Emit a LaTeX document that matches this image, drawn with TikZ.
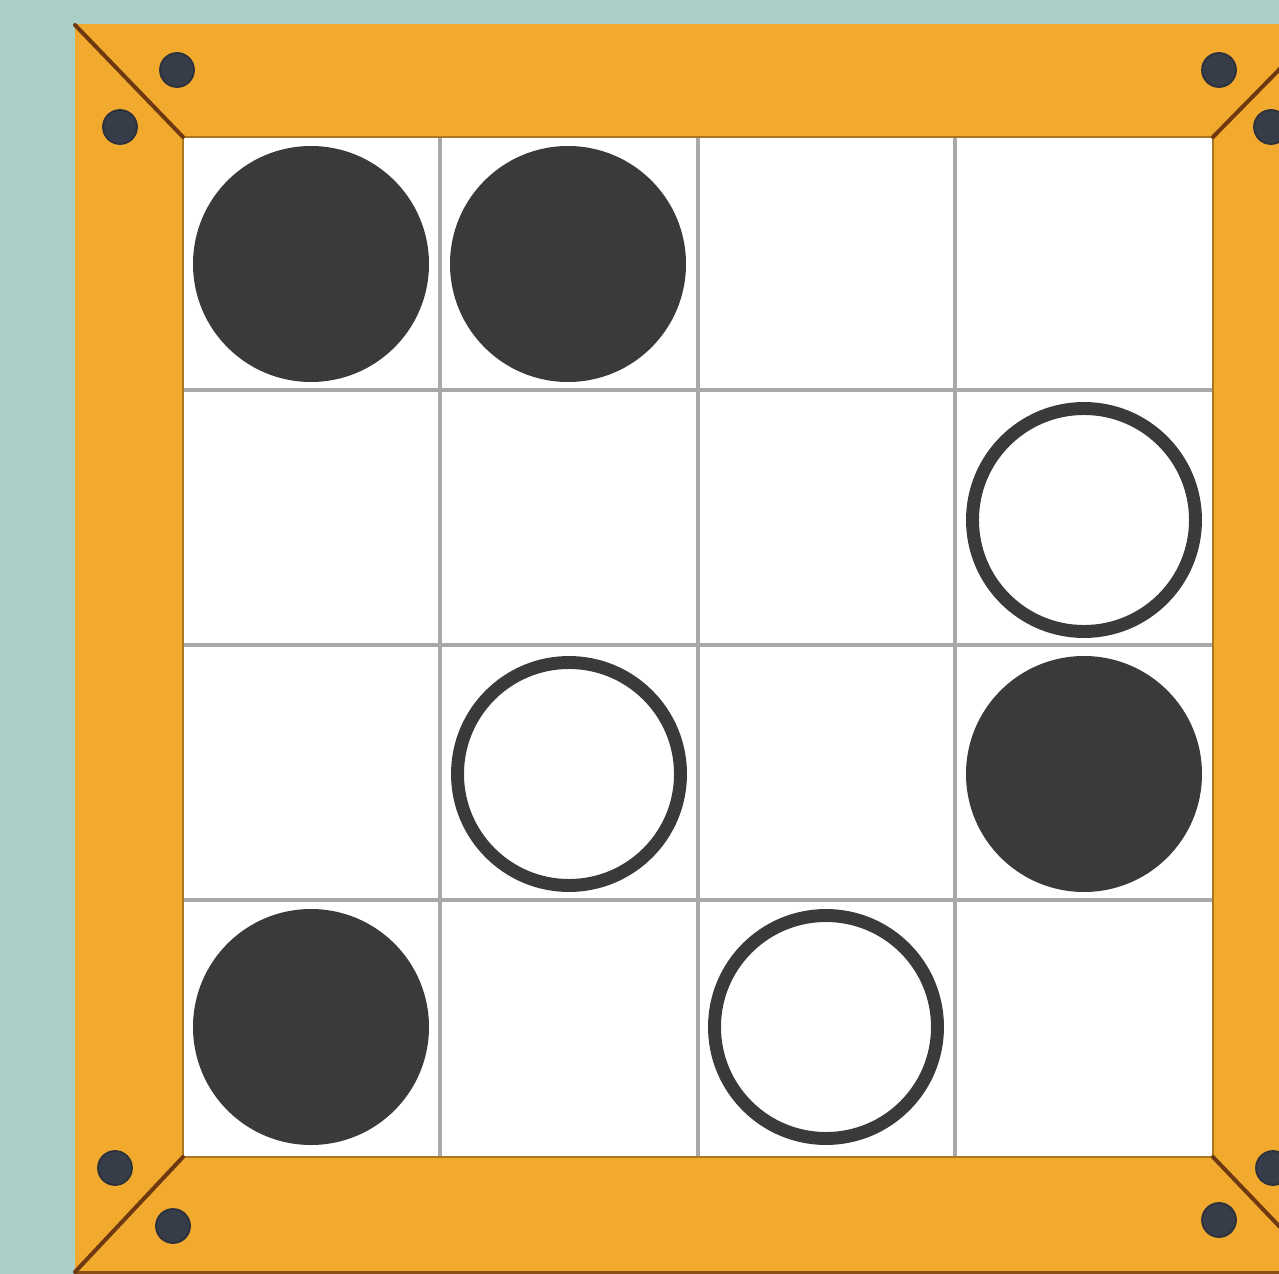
\documentclass[tikz,border=0pt]{standalone}
\begin{document}
\definecolor{bgteal}{HTML}{AACFC7}
\definecolor{frameor}{HTML}{F2AA2E}
\definecolor{framedk}{HTML}{6E3810}
\definecolor{gridgr}{HTML}{A8A8A8}
\definecolor{discdk}{HTML}{3A3A3A}
\definecolor{screwc}{HTML}{363C48}
\begin{tikzpicture}[x=0.02cm,y=-0.02cm,
  px/.style={line width=#1*0.567pt},
  disc/.style={circle,fill=discdk,draw=none,minimum size=236*0.02cm,inner sep=0pt},
  ring/.style={circle,draw=discdk,fill=white,line width=13*0.567pt,minimum size=(236-13)*0.02cm,inner sep=0pt},
  screw/.style={circle,fill=screwc,draw=screwc!80!black,line width=1pt,minimum size=34*0.02cm,inner sep=0pt},
  miter/.style={draw=framedk,line width=4*0.567pt,line cap=round}]
\useasboundingbox (0,0) rectangle (1279,1274);
\clip (0,0) rectangle (1279,1274);
\fill[bgteal] (0,0) rectangle (1279,1274);
% frame
\fill[frameor] (75,24) rectangle (1330,1271);
\draw[framedk!80!frameor,line width=3*0.567pt] (75,1272) -- (1330,1272);
% board
\fill[white] (183,137) rectangle (1213,1157);
\foreach \x in {440,698,955} \draw[gridgr,px=4] (\x,137) -- (\x,1157);
\foreach \y in {390,645,900} \draw[gridgr,px=4] (183,\y) -- (1213,\y);
\draw[frameor!70!black,px=2] (183,137) rectangle (1213,1157);
% mitre joints
\coordinate (itl) at (183,137); \coordinate (otl) at (75,25);
\coordinate (itr) at (1213,137); \coordinate (otr) at (1323,25);
\coordinate (ibl) at (183,1157); \coordinate (obl) at (75,1272);
\coordinate (ibr) at (1213,1157); \coordinate (obr) at (1323,1272);
\draw[miter] (otl) -- (itl);
\draw[miter] (otr) -- (itr);
\draw[miter] (obl) -- (ibl);
\draw[miter] (obr) -- (ibr);
% screws
\node[screw] (s1) at (177,70) {};
\node[screw] (s2) at (120,127) {};
\node[screw] (s3) at (1219,70) {};
\node[screw] (s4) at (1271,127) {};
\node[screw] (s5) at (115,1168) {};
\node[screw] (s6) at (173,1226) {};
\node[screw] (s7) at (1219,1220) {};
\node[screw] (s8) at (1273,1168) {};
% pieces
\node[disc] (p11) at (311,264) {};
\node[disc] (p12) at (568,264) {};
\node[ring] (p24) at (1084,520) {};
\node[ring] (p32) at (569,774) {};
\node[disc] (p34) at (1084,774) {};
\node[disc] (p41) at (311,1027) {};
\node[ring] (p43) at (826,1027) {};
\end{tikzpicture}
\end{document}
